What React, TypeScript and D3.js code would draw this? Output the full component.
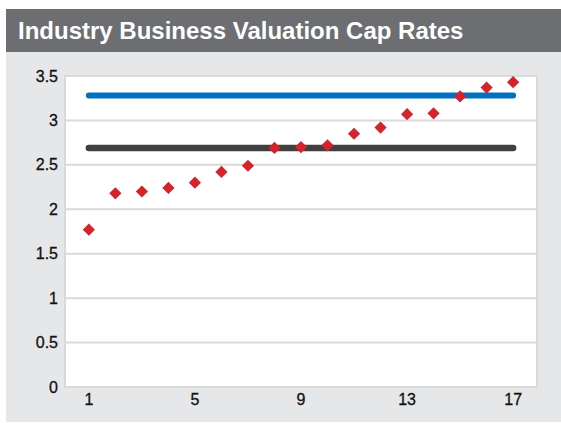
import React from 'react';
import * as d3 from 'd3';

const categories = d3.range(1, 18);
const capRates = [1.77, 2.18, 2.2, 2.24, 2.3, 2.42, 2.49, 2.69, 2.7, 2.72, 2.85, 2.92, 3.07, 3.08, 3.27, 3.37, 3.43];
const upperBand = 3.28;
const lowerBand = 2.69;
const yTicks = [0, 0.5, 1, 1.5, 2, 2.5, 3, 3.5];
const xTickLabels = [1, 5, 9, 13, 17];

const W = 561;
const H = 423;
const plot = { left: 65, right: 537, top: 76, bottom: 387 };
const font = 'Arial, "Liberation Sans", sans-serif';

const App: React.FC = () => {
  const x = d3.scalePoint<number>().domain(categories).range([plot.left, plot.right]).padding(0.9);
  const y = d3.scaleLinear().domain([0, 3.5]).range([plot.bottom, plot.top]);
  const diamond = d3.symbol().type(d3.symbolDiamond2).size(95)();
  const x0 = x(categories[0])!;
  const x1 = x(categories[categories.length - 1])!;

  return (
    <svg width={W} height={H} style={{ position: 'absolute', left: 0, top: 0 }}>
      <rect x={0} y={0} width={W} height={H} fill="#fff" />
      {/* panel + title bar */}
      <rect x={6} y={52} width={W - 6} height={370} fill="#e6e7e8" />
      <rect x={6} y={9} width={W - 6} height={43} fill="#6d6e71" />
      <text x={18} y={39} fill="#fff" fontFamily={font} fontWeight="bold" fontSize={24}>
        Industry Business Valuation Cap Rates
      </text>

      {/* plot area */}
      <rect x={plot.left} y={plot.top} width={plot.right - plot.left} height={plot.bottom - plot.top}
        fill="#fff" stroke="#dadada" strokeWidth={2} />
      {yTicks.map(t => (
        <g key={t}>
          <line x1={plot.left} x2={plot.right} y1={y(t)} y2={y(t)} stroke="#dadada" strokeWidth={2} />
          <text x={58} y={y(t)} dy="0.35em" textAnchor="end" fontFamily={font} fontSize={16} fill="#111"
            stroke="#111" strokeWidth={0.3}>
            {t}
          </text>
        </g>
      ))}
      {xTickLabels.map(c => (
        <text key={c} x={x(c)} y={405} textAnchor="middle" fontFamily={font} fontSize={16} fill="#111"
          stroke="#111" strokeWidth={0.3}>
          {c}
        </text>
      ))}

      <line x1={x0} x2={x1} y1={y(upperBand)} y2={y(upperBand)} stroke="#0070c0" strokeWidth={6} strokeLinecap="round" />
      <line x1={x0} x2={x1} y1={y(lowerBand)} y2={y(lowerBand)} stroke="#404040" strokeWidth={6.5} strokeLinecap="round" />

      {capRates.map((v, i) => (
        <path key={i} d={diamond!} transform={`translate(${x(categories[i])},${y(v)})`} fill="#d5232b" />
      ))}
    </svg>
  );
};

export default App;
